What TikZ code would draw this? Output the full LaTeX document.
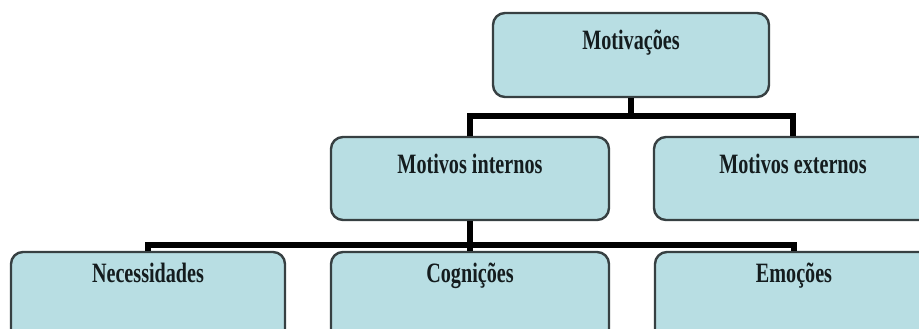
\documentclass[tikz,border=0pt]{standalone}
\usepackage{fontspec}
\setmainfont{Liberation Serif}[FakeStretch=0.72]
\usetikzlibrary{positioning}

\definecolor{boxfill}{RGB}{184,222,227}
\definecolor{boxline}{RGB}{55,64,66}
\definecolor{boxtext}{RGB}{20,28,30}

\tikzset{
  motbox/.style={draw=boxline, line width=2.4pt, fill=boxfill, rounded corners=12pt,
    minimum width=278pt, inner sep=0pt, text=boxtext,
    font=\fontsize{28}{30}\selectfont\bfseries,
    text height=18pt, text depth=#1},
  link/.style={draw=black, line width=5.5pt}
}

\begin{document}
\begin{tikzpicture}[x=1pt,y=1pt,on grid]
  \path[use as bounding box, clip] (0,0) rectangle (919,-329);
  \fill[white] (0,0) rectangle (919,-329);

  % top level
  \node[motbox=28pt, minimum width=276pt, minimum height=84pt] (mot) at (631,-55) {Motivações};
  % second level
  \node[motbox=29pt, minimum height=83pt, below left=123.5pt and 161pt of mot] (int) {Motivos internos};
  \node[motbox=29pt, minimum height=83pt, right=323pt of int] (ext) {Motivos externos};
  % third level
  \node[motbox=47pt, minimum height=90pt, below=118.5pt of int] (cog) {Cognições};
  \node[motbox=47pt, minimum height=90pt, minimum width=274pt, left=322pt of cog] (nec) {Necessidades};
  \node[motbox=47pt, minimum height=90pt, right=324pt of cog] (emo) {Emoções};

  \draw[link] (mot.south) -- ++(0,-18) -| (int.north);
  \draw[link] (mot.south) -- ++(0,-18) -| (ext.north);
  \draw[link] (int.south) -- ++(0,-24) -| (nec.north);
  \draw[link] (int.south) -- ++(0,-24) -| (emo.north);
  \draw[link] (int.south) -- (cog.north);
\end{tikzpicture}
\end{document}
